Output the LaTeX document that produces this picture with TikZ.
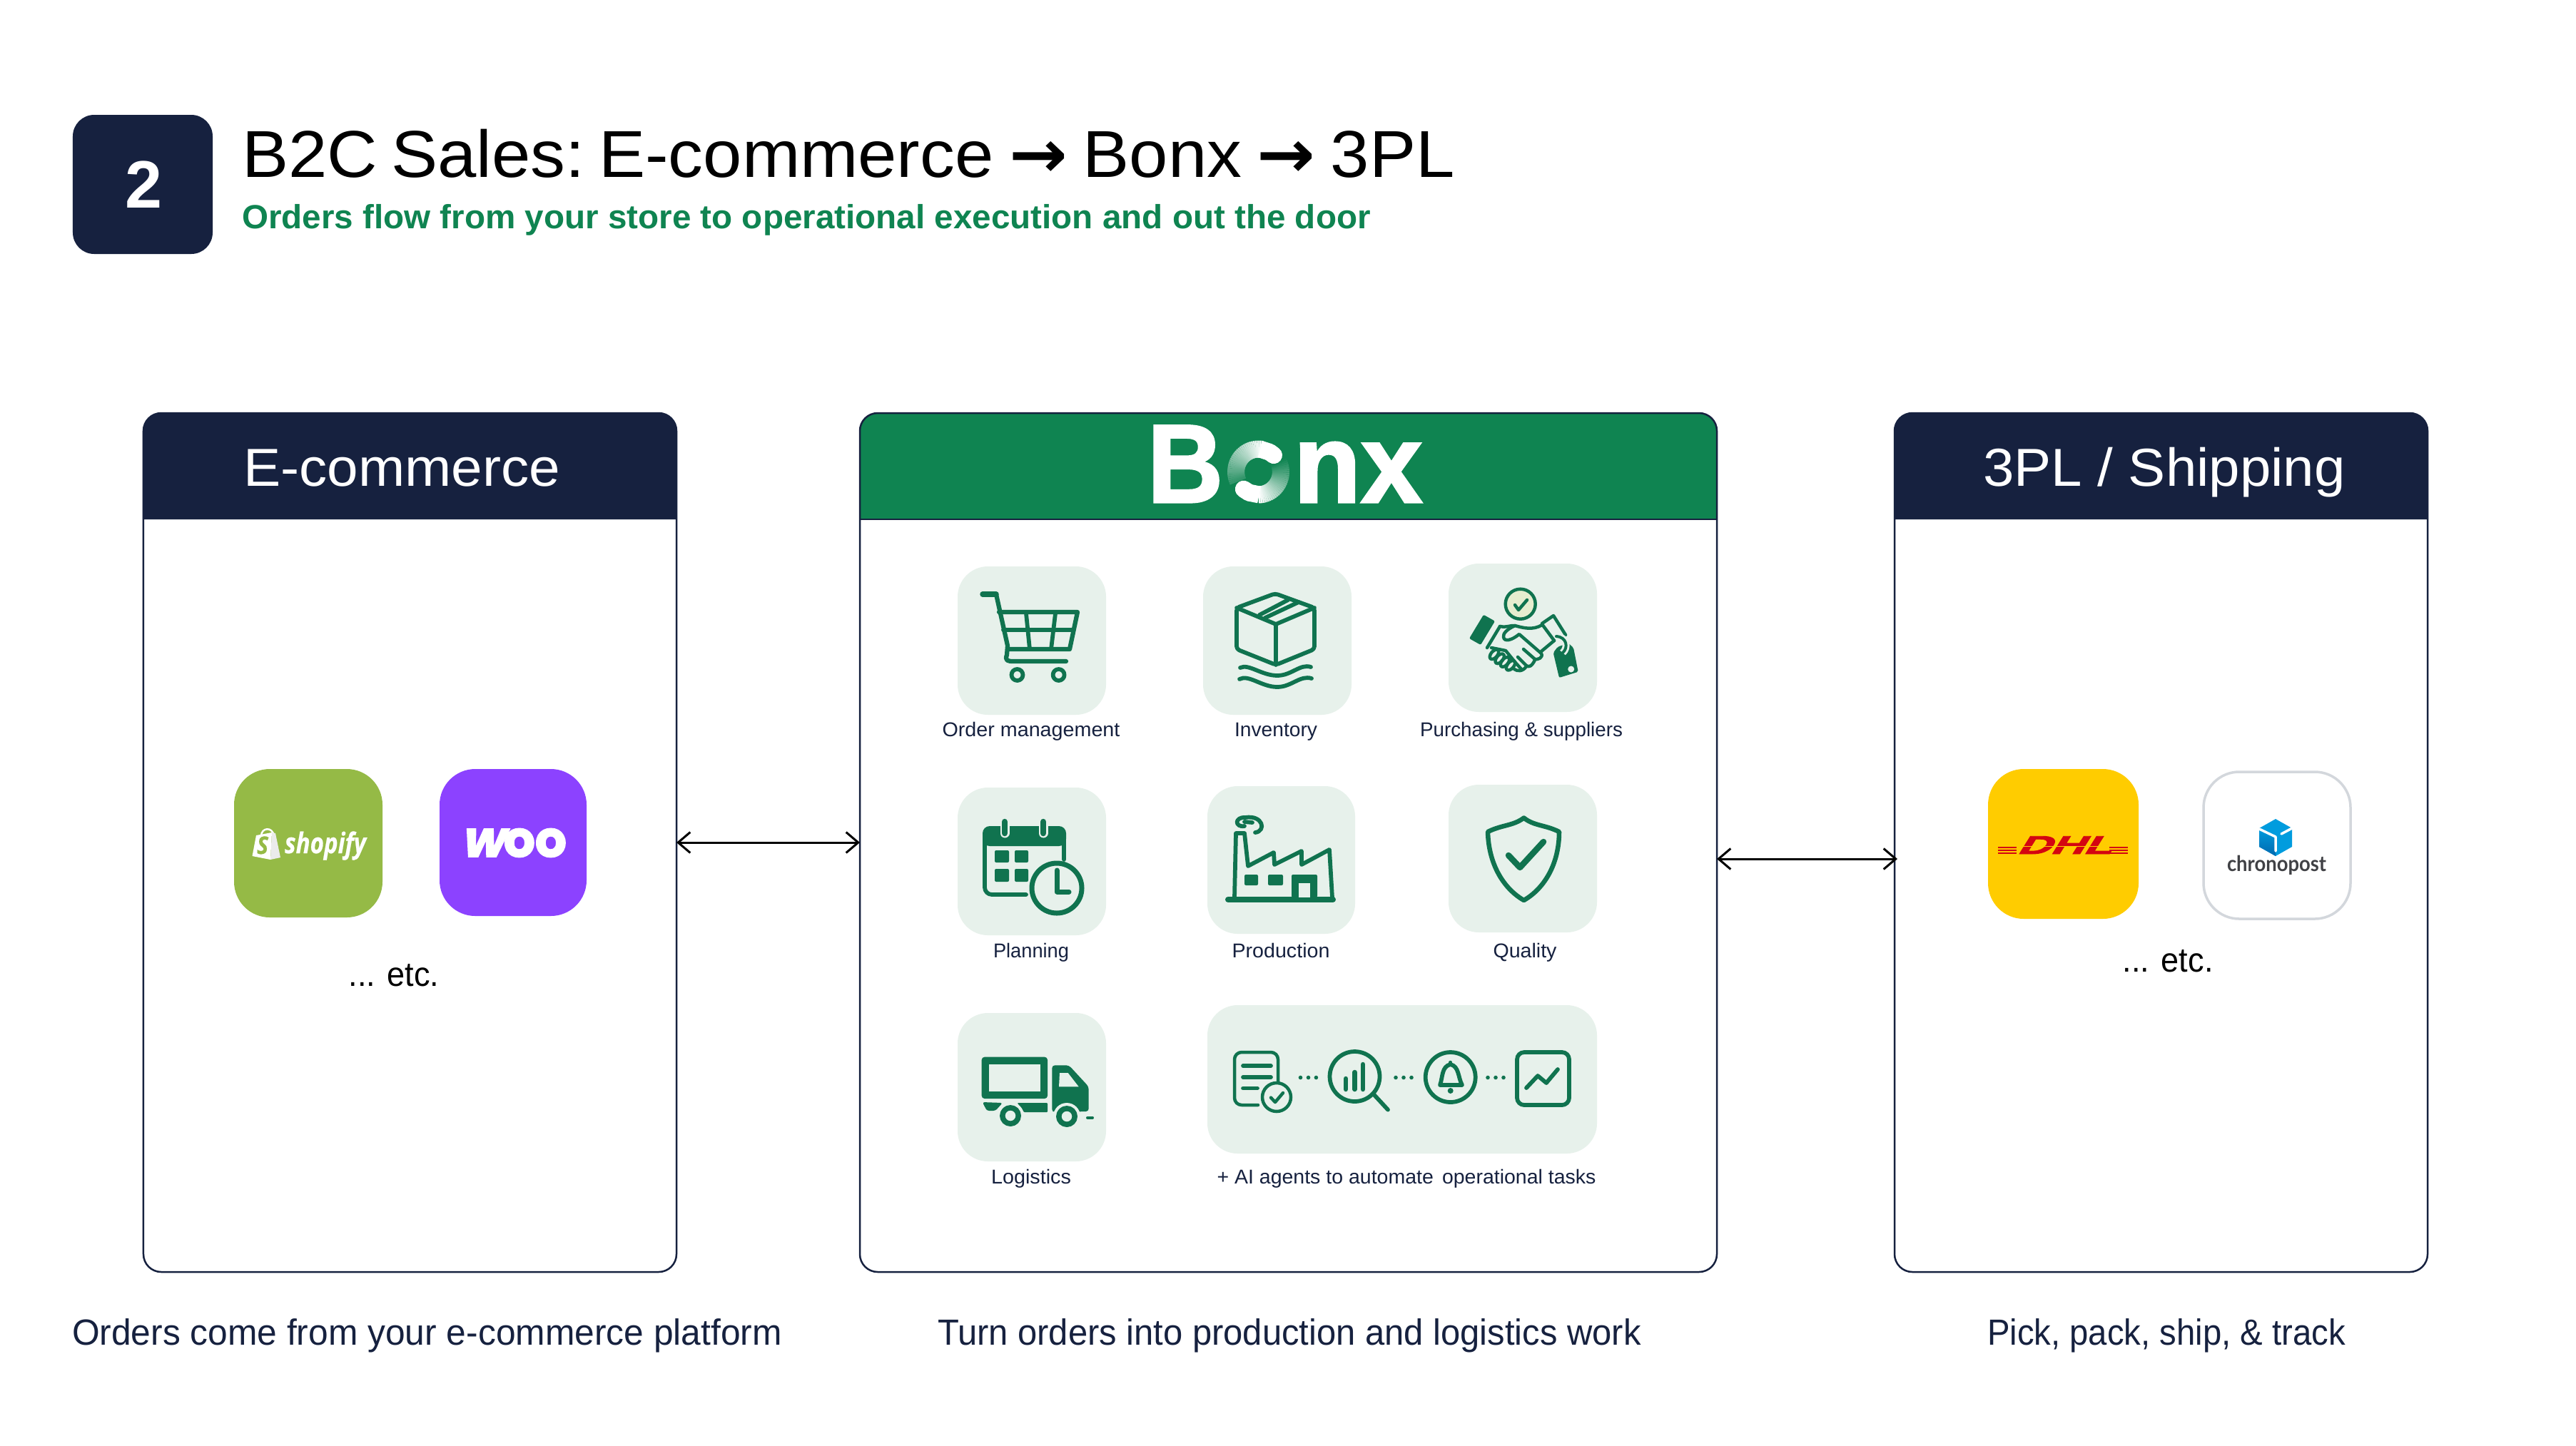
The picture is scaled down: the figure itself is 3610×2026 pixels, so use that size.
\documentclass[tikz,border=0pt]{standalone}
\usepackage{fontspec}
\usepackage{graphicx}
\usetikzlibrary{arrows.meta}
\setmainfont{Liberation Sans}
\newfontfamily\shopfont{Open Sans}[FakeBold=0.6]
\newfontfamily\woofont{Poppins}[FakeBold=2.5]
\newfontfamily\woofontS{Poppins}[FakeBold=2.5,FakeSlant=0.22]
\newfontfamily\dhlfont{Liberation Sans}[FakeSlant=0.35,FakeBold=2.5]
\newfontfamily\chronofont{Lato}
\newfontfamily\arrowfont{DejaVu Sans}
\newfontfamily\bonxfont{Liberation Sans}[FakeBold=2]
\definecolor{navy}{HTML}{16213F}
\definecolor{hgreen}{HTML}{0F8451}
\definecolor{iconG}{HTML}{10734F}
\definecolor{tileG}{HTML}{E7F1EB}
\definecolor{subG}{HTML}{0F8451}
\definecolor{shopG}{HTML}{95BA46}
\definecolor{wooP}{HTML}{8C42FF}
\definecolor{dhlY}{HTML}{FFCC00}
\definecolor{dhlR}{HTML}{D40511}
\definecolor{chronoB}{HTML}{D3D7DC}
\definecolor{chronoC}{HTML}{009CDE}
\definecolor{chronoD}{HTML}{0068AE}
\definecolor{chronoT}{HTML}{404145}
\definecolor{checkY}{HTML}{E6EDCF}
\newsavebox\fitbox
\newcommand\fitx[3]{\pgfmathsetmacro\fs{#2*0.56906}\fontsize{\fs pt}{\fs pt}\selectfont\sbox\fitbox{#3}\pgfmathsetmacro\xs{#1*0.56906/\wd\fitbox}\scalebox{\xs}[1]{\usebox\fitbox}}
\newcommand\boxat[6]{\pgfmathsetmacro\tw{(#4-#2)*0.02}\pgfmathsetmacro\th{(#5-#3)*0.02}\node[#1,minimum width=\tw cm,minimum height=\th cm] (#6) at ({(#2+#4)/2},{(#3+#5)/2}) {};}
\tikzset{
 txt/.style={inner sep=0pt,outer sep=0pt,anchor=base west},
 ctxt/.style={inner sep=0pt,outer sep=0pt,anchor=base},
 card/.style={draw=navy,line width=.05cm,rounded corners=.5cm,inner sep=0pt,outer sep=0pt},
 tile/.style={fill=tileG,rounded corners=.85cm,inner sep=0pt,outer sep=0pt},
 badge/.style={fill=navy,rounded corners=.6cm,inner sep=0pt,outer sep=0pt},
 logo/.style={rounded corners=1cm,inner sep=0pt,outer sep=0pt},
 link/.style={draw=black,line width=.06cm,{Straight Barb[length=.34cm,width=.58cm]}-{Straight Barb[length=.34cm,width=.58cm]}},
 ic/.style={draw=iconG,line width=.115cm,line cap=round,line join=round},
 icthin/.style={draw=iconG,line width=.09cm,line cap=round,line join=round},
 icfill/.style={fill=iconG},
 hole/.style={fill=tileG},
}
\begin{document}
\begin{tikzpicture}[x=0.02cm,y=-0.02cm]
\useasboundingbox (0,0) rectangle (3610,2026);
\fill[white] (0,0) rectangle (3610,2026);
% header
\boxat{badge}{102}{161}{298}{356}{bd}
\node[ctxt,text=white,font=\bfseries] (bdn) at (201,291) {\fitx{52}{94}{2}};
\node[txt,text=black] (title) at (339,248) {\fitx{1700}{93}{B2C\hspace{.2em}Sales:\hspace{.2em}E-commerce\hspace{.22em}{\arrowfont\bfseries →}\hspace{.22em}Bonx\hspace{.22em}{\arrowfont\bfseries →}\hspace{.22em}3PL}};
\node[txt,text=subG,font=\bfseries] (sub) at (339,320) {\fitx{1582}{47}{Orders flow from your store to operational execution and out the door}};
% card headers
\fill[navy] (201,728) [rounded corners=.5cm] -- (201,579) -- (948,579) [sharp corners] -- (948,728) -- cycle;
\fill[hgreen] (1205,728) [rounded corners=.5cm] -- (1205,579) -- (2406,579) [sharp corners] -- (2406,728) -- cycle;
\fill[navy] (2655,728) [rounded corners=.5cm] -- (2655,579) -- (3402,579) [sharp corners] -- (3402,728) -- cycle;
\draw[navy,line width=.05cm] (1205,728) -- (2406,728);
\boxat{card}{201}{579}{948}{1783}{ecom}
\boxat{card}{1205}{579}{2406}{1783}{bonx}
\boxat{card}{2655}{579}{3402}{1783}{ship}
\node[txt,text=white] (h1) at (341,681) {\fitx{444}{75}{E-commerce}};
\node[txt,text=white] (h3) at (2779,681) {\fitx{508}{75}{3PL / Shipping}};
% Bonx wordmark
\node[txt,text=white,font=\bfseries] (wb) at (1608,704) {\fitx{106}{156}{\bonxfont B}};
\node[txt,text=hgreen,font=\bfseries] (wo) at (1735,700) {\fitx{60}{100}{o}};
\foreach \a in {80,84,...,200}{\pgfmathtruncatemacro\p{100-85*(\a-80)/120}\pgfmathsetmacro\b{\a+5}
 \draw[line width=.48cm,white!\p!hgreen] ({1763.5+31.5*cos(\a)},{661.5-32*sin(\a)}) -- ({1763.5+31.5*cos(\b)},{661.5-32*sin(\b)});}
\foreach \a in {270,274,...,385}{\pgfmathtruncatemacro\p{100-100*(\a-270)/115}\pgfmathsetmacro\b{\a+5}
 \draw[line width=.48cm,white!\p!hgreen] ({1763.5+31.5*cos(\a)},{661.5-32*sin(\a)}) -- ({1763.5+31.5*cos(\b)},{661.5-32*sin(\b)});}
\draw[line width=.48cm,white,line cap=round] ({1763.5+31.5*cos(47)},{661.5-32*sin(47)}) -- ({1763.5+31.5*cos(60)},{661.5-32*sin(60)});
\draw[line width=.48cm,white] ({1763.5+31.5*cos(60)},{661.5-32*sin(60)}) -- ({1763.5+31.5*cos(85)},{661.5-32*sin(85)});
\draw[line width=.48cm,white,line cap=round] ({1763.5+31.5*cos(229)},{661.5-32*sin(229)}) -- ({1763.5+31.5*cos(245)},{661.5-32*sin(245)});
\draw[line width=.48cm,white] ({1763.5+31.5*cos(245)},{661.5-32*sin(245)}) -- ({1763.5+31.5*cos(272)},{661.5-32*sin(272)});
\node[txt,text=white,font=\bfseries] (wnx) at (1813,704) {\fitx{180}{156}{\bonxfont nx}};
% tiles
\boxat{tile}{1342}{794}{1550}{1002}{t1}
\boxat{tile}{1686}{794}{1894}{1002}{t2}
\boxat{tile}{2030}{790}{2238}{998}{t3}
\boxat{tile}{1342}{1104}{1550}{1311}{t4}
\boxat{tile}{1692}{1102}{1899}{1309}{t5}
\boxat{tile}{2030}{1100}{2238}{1307}{t6}
\boxat{tile}{1342}{1420}{1550}{1628}{t7}
\boxat{tile}{1692}{1409}{2238}{1617}{t8}
% tile labels
\node[ctxt,text=navy] (l1) at (1445,1032) {\fitx{249}{28}{Order management}};
\node[ctxt,text=navy] (l2) at (1788,1032) {\fitx{116}{28}{Inventory}};
\node[ctxt,text=navy] (l3) at (2132,1032) {\fitx{284}{28}{Purchasing \& suppliers}};
\node[ctxt,text=navy] (l4) at (1445,1342) {\fitx{106}{28}{Planning}};
\node[ctxt,text=navy] (l5) at (1795,1342) {\fitx{137}{28}{Production}};
\node[ctxt,text=navy] (l6) at (2137,1342) {\fitx{89}{28}{Quality}};
\node[ctxt,text=navy] (l7) at (1445,1659) {\fitx{112}{28}{Logistics}};
\node[ctxt,text=navy] (l8) at (1971,1659) {\fitx{531}{28}{+ AI agents to automate\hspace{.15em} operational tasks}};
% cart
\draw[ic,line width=.15cm] (1377,833) -- (1396,833);
\draw[ic,line width=.125cm] (1396,833) -- (1412,905) -- (1411,918) .. controls (1408,926) and (1412,927) .. (1420,927) -- (1494,927);
\draw[ic,line width=.125cm] (1400,858) -- (1510,858) -- (1499,910) -- (1412,910);
\draw[ic] (1406,883) -- (1504,883);
\draw[ic] (1438,860) -- (1443,910);
\draw[ic] (1479,860) -- (1473,910);
\draw[ic] (1425.5,946) circle[radius=8];
\draw[ic] (1483.6,946) circle[radius=8];
% box
\draw[ic,rounded corners=.08cm] (1787,832) -- (1842,852) -- (1842,910) -- (1788,932) -- (1733,910) -- (1733,852) -- cycle;
\draw[ic] (1733,852) -- (1788,875) -- (1842,852);
\draw[ic] (1788,875) -- (1788,932);
\draw[ic] (1765,862) -- (1805,841);
\draw[ic] (1773,866) -- (1820,844);
\draw[ic] (1738,936) .. controls (1750,930) and (1768,947) .. (1790,947) .. controls (1810,947) and (1822,930) .. (1837,935);
\draw[ic] (1737,952) .. controls (1750,945) and (1768,963) .. (1790,963) .. controls (1810,963) and (1822,946) .. (1838,951);
% handshake
\draw[icthin,fill=checkY] (2130.7,846.7) circle[radius=21];
\draw[icthin] (2123,848) -- (2128,855) -- (2140,841);
\fill[iconG,rounded corners=.04cm] (2079,861.7) -- (2095,870.7) -- (2075,904) -- (2059,895) -- cycle;
\draw[icthin] (2161,874) -- (2177,863) -- (2194,890);
\draw[icthin] (2161,875) -- (2178,898);
\draw[icthin] (2102,878) .. controls (2112,880) and (2118,876) .. (2123,877) .. controls (2134,880) and (2148,884) .. (2161,876);
\draw[icthin] (2102,878) -- (2084,908);
\draw[icthin] (2090,908) -- (2110,912) -- (2123,928) -- (2132,938);
\draw[icthin] (2123,877) .. controls (2112,882) and (2106,888) .. (2107,893) .. controls (2108,900) and (2118,898) .. (2129,889) -- (2160,916) .. controls (2163,922) and (2155,925) .. (2151,924) -- (2135,910);
\draw[icthin] (2151,925) .. controls (2147,934) and (2142,936) .. (2139,933) -- (2127,921);
\draw[icthin] (2139,934) .. controls (2134,942) and (2126,941) .. (2122,938);
\draw[icthin] (2160,913) -- (2178,898);
\foreach \x/\y in {2094/917.3,2101.7/923.3,2109/928,2117/932.7}{\draw[icthin,rotate around={50:(\x,\y)}] (\x,\y) ellipse [x radius=8,y radius=4.5];}
\fill[iconG,rounded corners=.04cm] (2176.7,915) -- (2183,906.7) -- (2198,901.7) -- (2205,908) -- (2211.7,941.7) -- (2185,950) -- cycle;
\draw[tileG,line width=.2cm] (2181,892) .. controls (2196,893) and (2198,908) .. (2190,915);
\draw[icthin,line width=.08cm] (2181,892) .. controls (2196,893) and (2198,908) .. (2190,915);
\fill[tileG] (2201.7,938) circle[radius=4.5];
% calendar
\draw[ic,rounded corners=.2cm] (1438,1254) -- (1380,1254) -- (1380,1162) -- (1491,1162) -- (1491,1205);
\fill[iconG,rounded corners=.2cm] (1377,1186) -- (1377,1158) -- (1494,1158) -- (1494,1186) -- cycle;
\draw[tileG,line width=.26cm,line cap=round] (1408,1152) -- (1408,1168);
\draw[tileG,line width=.26cm,line cap=round] (1462,1152) -- (1462,1168);
\draw[ic,line width=.17cm] (1408,1152) -- (1408,1168);
\draw[ic,line width=.17cm] (1462,1152) -- (1462,1168);
\fill[iconG,rounded corners=.04cm] (1394,1192) rectangle (1414,1209);
\fill[iconG,rounded corners=.04cm] (1422,1192) rectangle (1441,1209);
\fill[iconG,rounded corners=.04cm] (1394,1218) rectangle (1414,1236);
\fill[iconG,rounded corners=.04cm] (1422,1218) rectangle (1441,1236);
\draw[ic,line width=.14cm,fill=tileG] (1481,1245) circle[radius=35];
\draw[ic,line width=.14cm] (1481,1220) -- (1481,1250) -- (1498,1250);
% factory
\draw[ic,line width=.16cm] (1721,1261) -- (1868,1261);
\draw[ic] (1730,1258) -- (1732,1168) -- (1744,1168) -- (1749,1214) -- (1785,1195) -- (1786,1212) -- (1824,1193) -- (1824,1212) -- (1863,1191) -- (1867,1258);
\draw[ic] (1744,1158) .. controls (1730,1160) and (1730,1145) .. (1745,1146) .. controls (1770,1142) and (1775,1165) .. (1759,1167);
\draw[ic] (1744,1152) -- (1755,1153);
\fill[iconG,rounded corners=.04cm] (1744,1226) rectangle (1763,1241);
\fill[iconG,rounded corners=.04cm] (1777,1226) rectangle (1798,1241);
\fill[iconG,rounded corners=.04cm] (1810,1226) rectangle (1846,1258);
\fill[tileG] (1820,1238) rectangle (1836,1258);
% shield
\draw[ic,line width=.13cm] (2135.5,1146.5) .. controls (2150,1158) and (2165,1156) .. (2185,1166) .. controls (2185,1210) and (2165,1245) .. (2135.5,1262) .. controls (2106,1245) and (2086,1210) .. (2085,1166) .. controls (2105,1156) and (2120,1158) .. (2135.5,1146.5) -- cycle;
\draw[ic,line width=.17cm] (2114,1199) -- (2130,1216) -- (2163,1180);
% truck
\fill[iconG,rounded corners=.08cm] (1375.7,1481.7) rectangle (1468,1540);
\fill[hole] (1386,1492.3) rectangle (1457.7,1530);
\fill[iconG,rounded corners=.08cm] (1474.3,1559) -- (1474.3,1493.3) -- (1498,1493.3) -- (1525.7,1523.3) -- (1525.7,1558) -- cycle;
\fill[hole] (1485,1504) -- (1496.7,1504) -- (1511.7,1523.3) -- (1484,1523.3) -- cycle;
\fill[iconG,rounded corners=.06cm] (1376.7,1545) -- (1405,1546) -- (1395,1557) -- (1383,1557) -- cycle;
\fill[iconG,rounded corners=.02cm] (1425.7,1546) -- (1468,1546) -- (1468,1559) -- (1435,1559) -- cycle;
\fill[tileG] (1416,1564) circle[radius=19];
\fill[tileG] (1495,1565) circle[radius=19];
\draw[ic,line width=.15cm] (1416,1564) circle[radius=11.2];
\draw[ic,line width=.15cm] (1495,1565) circle[radius=11.2];
\draw[ic,line width=.08cm] (1524,1566.7) -- (1531,1566.7);
% AI row
\draw[icthin,rounded corners=.2cm] (1763,1549) -- (1730,1549) -- (1730,1475) -- (1791,1475) -- (1791,1520);
\draw[ic] (1742,1494) -- (1781,1494);
\draw[ic] (1742,1510) -- (1781,1510);
\draw[ic] (1742,1525.5) -- (1762,1525.5);
\draw[icthin,fill=tileG] (1789,1538) circle[radius=20];
\draw[icthin] (1781,1538.6) -- (1787,1545) -- (1798,1532);
\foreach \x in {1822.5,1833.5,1844.4,1956,1967,1978,2085,2096,2107}{\fill[iconG] (\x,1510.5) circle[radius=2.8];}
\draw[ic] (1898.5,1509) circle[radius=35];
\draw[ic] (1926,1535) -- (1945,1555.6);
\draw[ic,line width=.13cm] (1886,1527) -- (1886,1512);
\draw[ic,line width=.13cm] (1898.5,1527) -- (1898.5,1503);
\draw[ic,line width=.13cm] (1910,1527) -- (1910,1492);
\draw[ic] (2032.7,1510) circle[radius=35];
\draw[ic] (2018,1521) .. controls (2022,1510) and (2020,1495) .. (2032.7,1492) .. controls (2045,1495) and (2043,1510) .. (2049,1521) -- cycle;
\draw[icthin] (2032.7,1489) -- (2032.7,1491);
\fill[iconG] (2032.7,1529) circle[radius=4];
\draw[ic,rounded corners=.2cm] (2126,1475) rectangle (2199,1549);
\draw[ic] (2139,1525) -- (2155,1508) -- (2167,1518) -- (2183,1499);
% left logos
\boxat{logo,fill=shopG}{328}{1078}{536}{1286}{shop}
\boxat{logo,fill=wooP}{616}{1078}{822}{1284}{woo}
\draw[white,line width=.05cm] (366,1172) .. controls (366,1160) and (382,1158) .. (384,1172);
\fill[white] (353.5,1200) -- (359,1171) -- (381,1167) -- (379,1205) -- cycle;
\fill[white!92!black] (381,1167) -- (386,1168) -- (393,1202) -- (379,1205) -- cycle;
\node[ctxt,text=shopG,font=\bfseries\itshape] (shopS) at (368,1197) {\fitx{16}{34}{\shopfont S}};
\node[txt,text=white,font=\bfseries\itshape] (shopT) at (399,1196) {\fitx{114}{40}{\shopfont shopify}};
\node[txt,text=white,font=\bfseries] (wooT) at (646,1201) {\fitx{148}{70}{{\woofontS w}{\woofont oo}}};
\node[ctxt,text=black] (etc1) at (552,1382) {\fitx{127}{48}{... etc.}};
% right logos
\boxat{logo,fill=dhlY}{2786}{1078}{2997}{1288}{dhl}
\boxat{logo,fill=white,draw=chronoB,line width=.07cm}{3088}{1082}{3294}{1288}{chrono}
\node[txt,text=dhlR,font=\bfseries] (dhlT) at (2826,1197) {\fitx{132}{36}{\dhlfont DHL}};
\foreach \y in {1188,1192,1196}{
 \draw[dhlR,line width=.05cm] (2800,\y) -- (2826,\y);
 \draw[dhlR,line width=.05cm] (2956,\y) -- (2982,\y);}
\draw[dhlY,line width=.02cm] (2820,1186.5) -- (2962,1186.5);
\fill[chronoC] (3189,1148) -- (3212,1161) -- (3212,1187) -- (3189,1200) -- (3166,1187) -- (3166,1161) -- cycle;
\shade[top color=chronoC,bottom color=chronoD] (3166,1161) -- (3189,1174) -- (3189,1200) -- (3166,1187) -- cycle;
\draw[white,line width=.07cm,line cap=round,line join=round] (3166,1162) -- (3189,1173) -- (3189,1193);
\draw[white,line width=.07cm,line cap=round] (3197,1169) -- (3212,1161);
\node[txt,text=chronoT,font=\bfseries] (chronoL) at (3121,1221) {\fitx{139}{30}{\chronofont chronopost}};
\node[ctxt,text=black] (etc2) at (3038,1362) {\fitx{127}{48}{... etc.}};
% footers
\node[txt,text=navy] (f1) at (101,1885) {\fitx{995}{51}{Orders come from your e-commerce platform}};
\node[txt,text=navy] (f2) at (1314,1885) {\fitx{986}{51}{Turn orders into production and logistics work}};
\node[txt,text=navy] (f3) at (2785,1885) {\fitx{502}{51}{Pick, pack, ship, \& track}};
% connectors
\coordinate (rr) at (2659,1204);
\draw[link] (ecom.east) -- (bonx.west);
\draw[link] (bonx.east |- rr) -- (rr);
\end{tikzpicture}
\end{document}
